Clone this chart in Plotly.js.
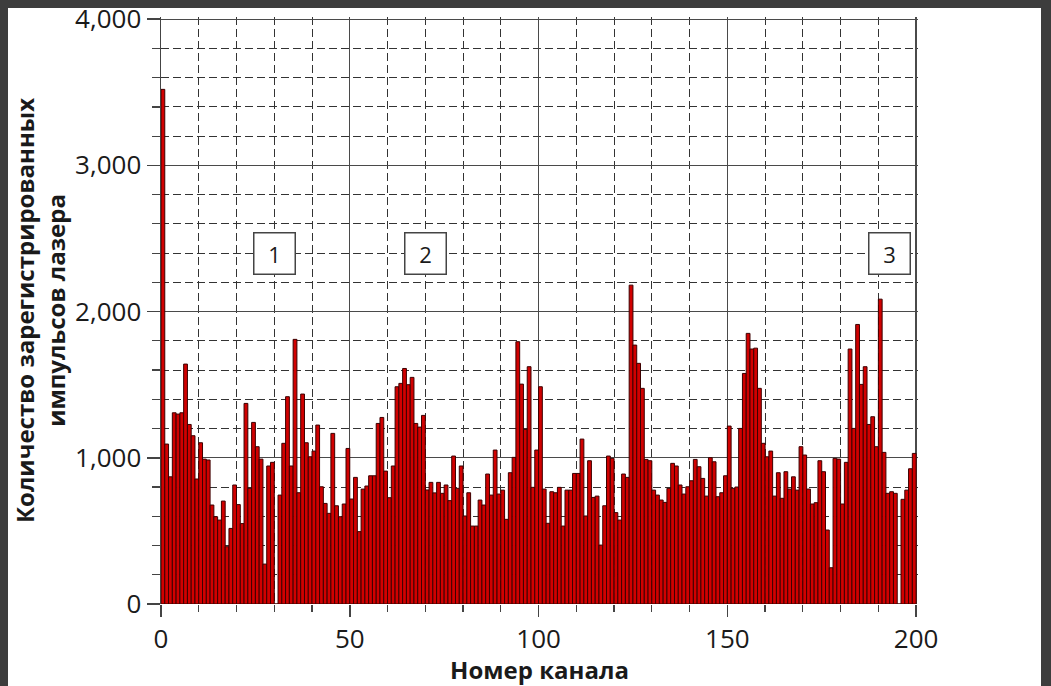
<!DOCTYPE html>
<html>
<head>
<meta charset="utf-8">
<script src="https://cdn.plot.ly/plotly-3.0.1.min.js"></script>
<style>
  html, body { margin: 0; padding: 0; background: #3d3d3d; width: 1051px; height: 686px; overflow: hidden; }
  #sheet { position: absolute; left: 8px; top: 8px; width: 1033px; height: 678px; background: #fff; }
  #chart { position: absolute; left: 0; top: 0; width: 1051px; height: 686px; }
</style>
</head>
<body>
<div id="sheet"></div>
<div id="chart"></div>
<script>
// Pulse counts per channel (channel c occupies [c, c+1])
const counts = [
  3520,1094,870,1308,1299,1308,1641,1228,1151,855,
  1103,991,985,677,597,574,704,392,517,814,
  680,550,1372,791,1242,1076,991,273,944,969,
  0,745,1099,1418,944,1810,761,1436,1103,1007,
  1046,1224,802,688,620,1167,672,597,684,1064,
  718,866,495,786,807,877,877,1235,1276,909,
  727,944,1486,1509,1611,1500,1550,1235,1210,1290,
  780,832,760,832,757,814,707,1012,791,944,
  602,761,533,533,711,677,889,745,1053,752,
  779,579,898,1003,1794,1504,1194,1623,798,1053,
  1486,786,552,768,761,798,533,779,779,893,
  893,1128,602,980,729,738,403,672,1012,996,
  625,574,889,866,2181,1771,1646,1475,989,980,
  779,745,711,695,791,962,944,814,752,802,
  843,989,939,859,738,1001,973,734,761,877,
  1217,791,800,1201,1577,1851,1744,1750,1475,1099,
  1007,1046,738,898,723,905,786,870,779,1076,
  1019,786,684,693,980,905,506,248,996,991,
  684,969,1744,1201,1912,1502,1623,1228,1281,1076,
  2085,1037,757,768,757,0,716,779,925,1030
];
const channels = counts.map((_, i) => i);

// Region labels
const regionLabels = ['1', '2', '3'];
const regionX = [30, 70, 193];
const regionY = [2400, 2400, 2400];

const xTickVals = [0, 50, 100, 150, 200];
const yTickVals = [0, 1000, 2000, 3000, 4000];

const FONT = '"Open Sans", "Noto Sans", sans-serif';
const TXT = '#1a1a1a';

const trace = {
  type: 'bar',
  x: channels,
  y: counts,
  offset: 0,
  width: 1,
  marker: { color: '#d10000', line: { color: '#3c0000', width: 1 } },
  hoverinfo: 'x+y'
};

const layout = {
  width: 1051,
  height: 686,
  margin: { l: 161, r: 133, t: 17, b: 82 },
  paper_bgcolor: 'rgba(0,0,0,0)',
  plot_bgcolor: '#ffffff',
  showlegend: false,
  bargap: 0,
  font: { family: FONT, color: TXT, size: 22 },
  xaxis: {
    range: [0, 200.5],
    tickmode: 'array',
    tickvals: xTickVals,
    ticktext: xTickVals.map(String),
    ticks: 'outside',
    ticklen: 12,
    tickwidth: 1.5,
    tickcolor: '#444',
    showline: false,
    zeroline: false,
    showgrid: true,
    gridcolor: '#4a4a4a',
    gridwidth: 1.3,
    minor: {
      dtick: 10,
      tick0: 0,
      ticks: 'outside',
      ticklen: 7,
      tickwidth: 1.2,
      tickcolor: '#444',
      showgrid: true,
      gridcolor: '#333',
      gridwidth: 1,
      griddash: '8px,4px'
    },
    tickfont: { family: FONT, size: 26, color: TXT },
    title: {
      text: 'Номер канала',
      font: { family: FONT, size: 24, color: TXT, weight: 'bold' },
      standoff: 4
    },
    automargin: false,
    fixedrange: true
  },
  yaxis: {
    range: [0, 4015],
    tickmode: 'array',
    tickvals: yTickVals,
    ticktext: yTickVals.map(v => v.toLocaleString('en-US')),
    ticks: 'outside',
    ticklen: 13,
    tickwidth: 1.5,
    tickcolor: '#444',
    showline: true,
    linecolor: '#444',
    linewidth: 1.5,
    zeroline: false,
    showgrid: true,
    gridcolor: '#4a4a4a',
    gridwidth: 1.3,
    minor: {
      dtick: 200,
      tick0: 0,
      ticks: 'outside',
      ticklen: 8,
      tickwidth: 1.2,
      tickcolor: '#444',
      showgrid: true,
      gridcolor: '#333',
      gridwidth: 1,
      griddash: '8px,4px'
    },
    tickfont: { family: FONT, size: 26, color: TXT },
    title: {
      text: 'Количество зарегистрированных<br>импульсов лазера',
      font: { family: FONT, size: 24, color: TXT, weight: 'bold' },
      standoff: 2
    },
    automargin: false,
    fixedrange: true
  },
  annotations: regionLabels.map((t, i) => ({
    x: regionX[i],
    y: regionY[i],
    xref: 'x',
    yref: 'y',
    text: t,
    showarrow: false,
    font: { family: FONT, size: 22, color: TXT },
    bgcolor: '#ffffff',
    bordercolor: '#444',
    borderwidth: 1.5,
    borderpad: 1,
    width: 38,
    height: 38,
    align: 'center',
    valign: 'middle'
  }))
};

Plotly.newPlot('chart', [trace], layout, { displayModeBar: false, staticPlot: true });
</script>
</body>
</html>
